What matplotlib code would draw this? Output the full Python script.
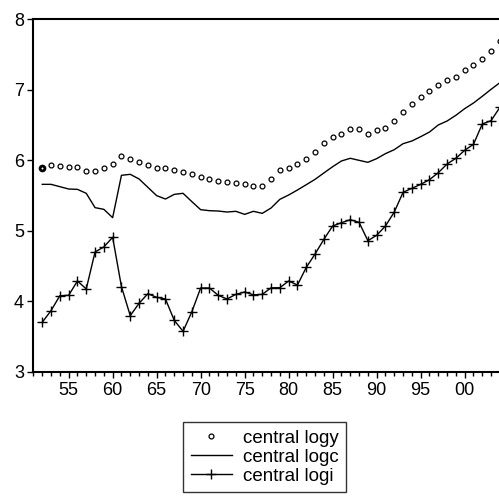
import matplotlib
matplotlib.use("Agg")
import matplotlib.pyplot as plt
from matplotlib.ticker import MultipleLocator, FuncFormatter

plt.rcParams['font.family'] = ['Liberation Sans', 'DejaVu Sans']

years = list(range(1952, 2005))

logy = [5.894, 5.932, 5.922, 5.908, 5.908, 5.851, 5.851, 5.889, 5.940, 6.055,
        6.017, 5.975, 5.928, 5.894, 5.894, 5.857, 5.833, 5.800, 5.758, 5.734,
        5.710, 5.690, 5.673, 5.658, 5.640, 5.640, 5.738, 5.857, 5.894, 5.951,
        6.012, 6.116, 6.239, 6.324, 6.367, 6.437, 6.437, 6.371, 6.428, 6.451,
        6.551, 6.678, 6.801, 6.890, 6.985, 7.065, 7.136, 7.183, 7.282, 7.348,
        7.438, 7.542, 7.688]

logc = [5.658, 5.658, 5.625, 5.592, 5.587, 5.531, 5.328, 5.304, 5.186, 5.786,
        5.800, 5.734, 5.616, 5.498, 5.450, 5.516, 5.531, 5.413, 5.299, 5.285,
        5.280, 5.266, 5.276, 5.233, 5.276, 5.247, 5.323, 5.446, 5.507, 5.578,
        5.653, 5.729, 5.819, 5.908, 5.989, 6.027, 5.998, 5.970, 6.022, 6.093,
        6.149, 6.234, 6.272, 6.333, 6.399, 6.499, 6.555, 6.636, 6.730, 6.810,
        6.905, 7.004, 7.098]

logi = [3.704, 3.869, 4.081, 4.086, 4.289, 4.176, 4.700, 4.771, 4.908, 4.209,
        3.798, 3.973, 4.109, 4.058, 4.034, 3.732, 3.576, 3.854, 4.190, 4.190,
        4.086, 4.034, 4.100, 4.133, 4.093, 4.100, 4.192, 4.194, 4.289, 4.232,
        4.482, 4.671, 4.879, 5.068, 5.115, 5.157, 5.120, 4.860, 4.936, 5.068,
        5.266, 5.545, 5.602, 5.658, 5.724, 5.823, 5.946, 6.027, 6.140, 6.225,
        6.513, 6.560, 6.749]

fig = plt.figure(figsize=(4.99, 5.00), dpi=100)
ax = fig.add_axes([33 / 499, 128 / 500, 474.8 / 499, 353 / 500])

ax.plot(years, logy, linestyle='none', marker='o', markersize=3.5,
        markerfacecolor='white', markeredgecolor='black', markeredgewidth=0.9,
        label='central logy')
# first observation drawn heavier, as in the original
ax.plot(years[:1], logy[:1], linestyle='none', marker='o', markersize=3.5,
        markerfacecolor='white', markeredgecolor='black', markeredgewidth=2)
ax.plot(years, logc, color='black', linewidth=1.0, label='central logc')
ax.plot(years, logi, color='black', linewidth=1.0, marker='+', markersize=6.5,
        markeredgewidth=1.0, label='central logi')

ax.set_xlim(1950.95, 2004.9)
ax.set_ylim(3, 8)
ax.xaxis.set_major_locator(MultipleLocator(5))
ax.xaxis.set_minor_locator(MultipleLocator(1))
ax.xaxis.set_major_formatter(FuncFormatter(lambda v, p: '%02d' % (int(round(v)) % 100)))
ax.yaxis.set_major_locator(MultipleLocator(1))

ax.tick_params(axis='x', which='major', direction='out', length=4.5, width=1, labelsize=13, pad=3)
ax.tick_params(axis='x', which='minor', direction='out', length=3, width=1)
ax.tick_params(axis='y', which='major', direction='out', length=4.5, width=1, labelsize=13, pad=2)
for s in ax.spines.values():
    s.set_linewidth(1.5)

leg = fig.legend(loc='upper left', bbox_to_anchor=(183 / 499, 1 - 422 / 500),
                 fontsize=13.5, frameon=True, fancybox=False, handlelength=2.2,
                 handletextpad=0.6, borderpad=0.4, labelspacing=0.1,
                 borderaxespad=0, numpoints=1, markerscale=1.0)
leg.get_frame().set_edgecolor('black')
leg.get_frame().set_linewidth(1.0)

fig.savefig('out.png', dpi=100)
